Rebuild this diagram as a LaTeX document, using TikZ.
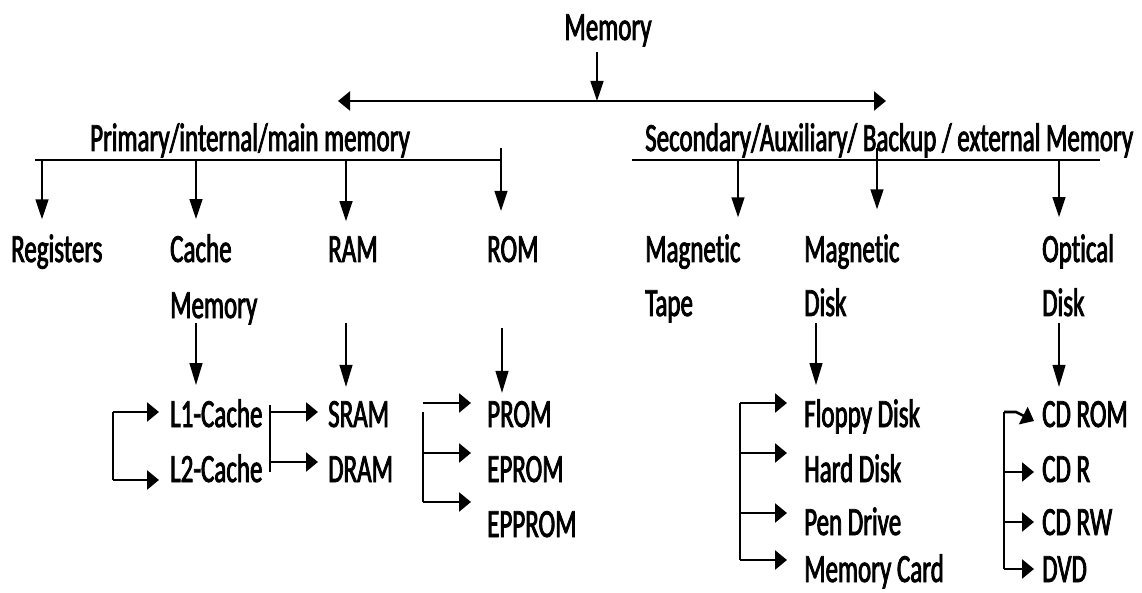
\documentclass[tikz,border=0pt]{standalone}
\usepackage{fontspec}
\setmainfont{Carlito}[FakeStretch=0.625,FakeBold=2,Ligatures=NoCommon]
\usetikzlibrary{arrows.meta,calc}
\begin{document}
\begin{tikzpicture}[x=1pt,y=-1pt,
  lbl/.style={inner sep=0pt, anchor=base west, font=\fontsize{40}{48}\selectfont},
  varr/.style={line width=1.5pt, -{Triangle[length=20pt,width=13pt]}},
  thinarr/.style={line width=1.2pt, -{Triangle[length=22pt,width=13pt]}},
  harr/.style={line width=2.6pt, -{Triangle[length=12pt,width=19pt]}},
  dharr/.style={line width=2.2pt, {Triangle[length=12pt,width=19pt]}-{Triangle[length=12pt,width=19pt]}},
  barline/.style={line width=2.6pt},
  brk/.style={line width=1.8pt}]
\useasboundingbox (0,0) rectangle (1142,593);

% titles
\node[lbl, anchor=base] (mem) at (608,40) {Memory};
\node[lbl] (prim) at (90,151) {Primary/internal/main memory};
\node[lbl] (sec) at (645,151) {Secondary/Auxiliary/ Backup / external Memory};

% second row
\node[lbl] (reg) at (11,262) {Registers};
\node[lbl] (cache) at (170,262) {Cache};
\node[lbl] (cachem) at (170,318) {Memory};
\node[lbl] (ram) at (328,262) {RAM};
\node[lbl] (rom) at (487,262) {ROM};
\node[lbl] (mt1) at (645,262) {Magnetic};
\node[lbl] (mt2) at (645,316) {Tape};
\node[lbl] (md1) at (804,262) {Magnetic};
\node[lbl] (md2) at (804,316) {Disk};
\node[lbl] (od1) at (1042,262) {Optical};
\node[lbl] (od2) at (1042,316) {Disk};

% third row
\node[lbl] (l1) at (170,427) {L1-Cache};
\node[lbl] (l2) at (170,482) {L2-Cache};
\node[lbl] (sram) at (328,427) {SRAM};
\node[lbl] (dram) at (328,482) {DRAM};
\node[lbl] (prom) at (487,427) {PROM};
\node[lbl] (eprom) at (487,482) {EPROM};
\node[lbl] (epprom) at (487,537) {EPPROM};
\node[lbl] (fd) at (804,427) {Floppy Disk};
\node[lbl] (hd) at (804,482) {Hard Disk};
\node[lbl] (pd) at (804,535) {Pen Drive};
\node[lbl] (mc) at (804,582) {Memory Card};
\node[lbl] (cdrom) at (1042,427) {CD ROM};
\node[lbl] (cdr) at (1042,482) {CD R};
\node[lbl] (cdrw) at (1042,535) {CD RW};
\node[lbl] (dvd) at (1042,582) {DVD};

% top split
\coordinate (hm) at (597,101);
\coordinate (hl) at (338,101);
\coordinate (hr) at (886,101);
\draw[varr] ($(hm |- mem.south)+(0,5)$) -- (hm);
\draw[dharr] (hl) -- (hr);

% bars
\coordinate (lb1) at (35,160);
\coordinate (lb2) at (501,160);
\coordinate (rb1) at (632,160);
\coordinate (rb2) at (1100,160);
\draw[barline] (lb1) -- (lb2);
\draw[barline] (rb1) -- (rb2);

% bar ticks
\coordinate (treg) at (42,160);
\coordinate (tcache) at (196,160);
\coordinate (tram) at (346,160);
\coordinate (trom) at (501,148);
\coordinate (tmt) at (738,160);
\coordinate (tmd) at (877,148);
\coordinate (tod) at (1059,160);
\draw[varr] (treg) -- ($(treg |- reg.north)+(0,-15)$);
\draw[varr] (tcache) -- ($(tcache |- cache.north)+(0,-15)$);
\draw[varr] (tram) -- ($(tram |- ram.north)+(0,-15)$);
\draw[varr] (trom) -- ($(trom |- rom.north)+(0,-25)$);
\draw[varr] (tmt) -- ($(tmt |- mt1.north)+(0,-17)$);
\draw[varr] (tmd) -- ($(tmd |- md1.north)+(0,-25)$);
\draw[varr] (tod) -- ($(tod |- od1.north)+(0,-17)$);

% down arrows to third row
\coordinate (dc) at (196,323);
\coordinate (dr) at (346,323);
\coordinate (dro) at (502,328);
\coordinate (dmd) at (816,323);
\coordinate (dod) at (1059,323);
\draw[thinarr] (dc) -- ($(dc |- l1.north)+(0,-14)$);
\draw[thinarr] (dr) -- ($(dr |- sram.north)+(0,-14)$);
\draw[thinarr] (dro) -- ($(dro |- prom.north)+(0,-8)$);
\draw[thinarr] (dmd) -- ($(dmd |- fd.north)+(0,-14)$);
\draw[thinarr] (dod) -- ($(dod |- cdrom.north)+(0,-14)$);

% cache bracket
\coordinate (ca) at (113,412);
\coordinate (cb) at (113,480);
\draw[brk] (ca) -- (cb);
\draw[harr] (ca) -- ($(ca -| l1.west)+(-11,0)$);
\draw[harr] (cb) -- ($(cb -| l2.west)+(-11,0)$);

% ram bracket
\coordinate (ra) at (270,405);
\coordinate (rb) at (270,472);
\coordinate (ra1) at (270,412);
\coordinate (rb1) at (270,462);
\draw[line width=1.2pt] (ra) -- (rb);
\draw[harr] (ra1) -- ($(ra1 -| sram.west)+(-10,0)$);
\draw[harr] (rb1) -- ($(rb1 -| dram.west)+(-10,0)$);

% rom bracket
\coordinate (oa) at (423,403);
\coordinate (ob) at (423,453);
\coordinate (oc) at (423,502);
\draw[line width=1.2pt] (423,412) -- (oc);
\draw[harr] (oa) -- ($(oa -| prom.west)+(-16,0)$);
\draw[harr] (ob) -- ($(ob -| eprom.west)+(-16,0)$);
\draw[harr] (oc) -- ($(oc -| epprom.west)+(-16,0)$);

% magnetic disk bracket
\coordinate (ma) at (740,403);
\coordinate (mb) at (740,453);
\coordinate (mcc) at (740,513);
\coordinate (md) at (740,560);
\draw[brk] (ma) -- (md);
\draw[harr] (ma) -- ($(ma -| fd.west)+(-17,0)$);
\draw[harr] (mb) -- ($(mb -| hd.west)+(-17,0)$);
\draw[harr] (mcc) -- ($(mcc -| pd.west)+(-17,0)$);
\draw[harr] (md) -- ($(md -| mc.west)+(-17,0)$);

% optical bracket
\coordinate (pa) at (1004,412);
\coordinate (pb) at (1004,472);
\coordinate (pc) at (1004,522);
\coordinate (pdd) at (1004,569);
\draw[brk] (pa) -- (pdd);
\draw[harr] (pa) -- (1016,412) -- ($(pa -| cdrom.west)+(-8,9)$);
\draw[harr] (pb) -- ($(pb -| cdr.west)+(-8,0)$);
\draw[harr] (pc) -- ($(pc -| cdrw.west)+(-8,0)$);
\draw[harr] (pdd) -- ($(pdd -| dvd.west)+(-8,0)$);
\end{tikzpicture}
\end{document}
